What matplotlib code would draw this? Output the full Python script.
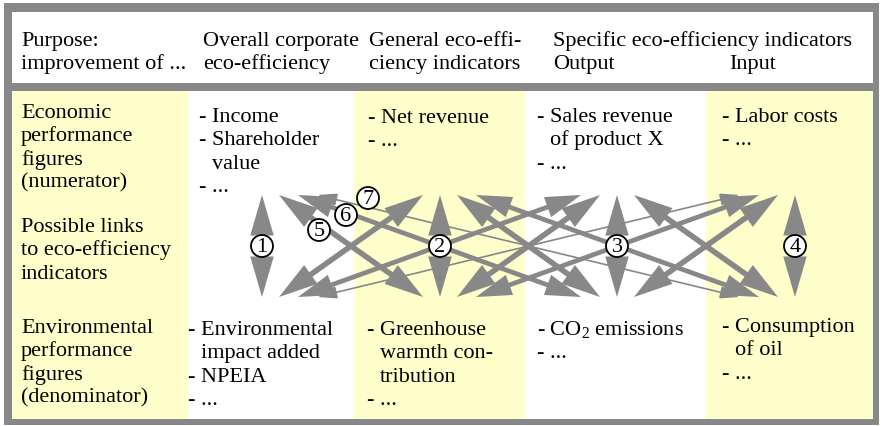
import matplotlib.pyplot as plt
from matplotlib.patches import Rectangle, Circle

plt.rcParams["font.family"] = ["Liberation Serif", "DejaVu Serif"]
plt.rcParams["mathtext.fontset"] = "custom"
plt.rcParams["mathtext.rm"] = "Liberation Serif"
plt.rcParams["mathtext.it"] = "Liberation Serif:italic"

# --- content -------------------------------------------------------------
header_purpose = ["Purpose:", "improvement of ..."]
header_overall = ["Overall corporate", "eco-efficiency"]
header_general = ["General eco-effi-", "ciency indicators"]
header_specific = ["Specific eco-efficiency indicators", "Output"]
header_input = ["", "Input"]

label_economic = ["Economic", "performance", "figures", "(numerator)"]
label_links = ["Possible links", "to eco-efficiency", "indicators"]
label_environmental = ["Environmental", "performance", "figures", "(denominator)"]

# lines starting with a space continue the item above
economic_items = [
    ["- Income", "- Shareholder", " value", "- ..."],
    ["- Net revenue", "- ..."],
    ["- Sales revenue", " of product X", "- ..."],
    ["- Labor costs", "- ..."],
]
environmental_items = [
    ["- Environmental", " impact added", "- NPEIA", "- ..."],
    ["- Greenhouse", " warmth con-", " tribution", "- ..."],
    [r"- CO$_2$ emissions", "- ..."],
    ["- Consumption", " of oil", "- ..."],
]

# links: (column at the top, column at the bottom, label)
links = [
    (0, 0, "1"), (1, 1, "2"), (2, 2, "3"), (3, 3, "4"),
    (0, 1, "5"), (0, 2, "6"), (0, 3, "7"),
    (1, 0, ""), (2, 0, ""), (3, 0, ""),
    (1, 2, ""), (1, 3, ""), (2, 1, ""), (3, 1, ""),
    (2, 3, ""), (3, 2, ""),
]

# --- layout --------------------------------------------------------------
W, H = 885, 427
GRAY = "#888888"
YELLOW = "#FFFFCC"
FS = 16
LINE = 23.3
INDENT = 13

col_edges = [12, 188, 354, 525, 706, 873]
col_fill = [YELLOW, "white", YELLOW, "white", YELLOW]
top_x = [199, 368, 537, 722]
bot_x = [188, 367, 537, 722]
top_y = [122, 123, 122, 122]
bot_y = [335, 335, 335, 332]

cx = [262, 440, 617, 795]
ARROW_TOP, ARROW_BOT = 196, 298
offsets = {1: 17, 2: 36, 3: 55}
widths = {0: 4.0, 1: 4.0, 2: 3.4, 3: 1.2}
heads = {0: (20, 5.8), 1: (19, 5.6), 2: (18, 5.4), 3: (12, 3.8)}
extra_label_pos = {"5": (319, 231), "6": (346, 216), "7": (368, 199)}

fig = plt.figure(figsize=(W / 100, H / 100), dpi=100)
ax = fig.add_axes([0, 0, 1, 1])
ax.set_xlim(0, W)
ax.set_ylim(H, 0)
ax.axis("off")

# frame and column bands
ax.add_patch(Rectangle((4, 4), 875, 422, fc=GRAY, ec="none"))
ax.add_patch(Rectangle((12, 13), 861, 71, fc="white", ec="none"))
for k in range(5):
    ax.add_patch(Rectangle((col_edges[k], 92), col_edges[k + 1] - col_edges[k], 328,
                           fc=col_fill[k], ec="none"))


def draw_lines(x, y0, lines, step=LINE):
    for n, line in enumerate(lines):
        dx = INDENT if line.startswith(" ") else 0
        ax.text(x + dx, y0 + n * step, line.strip(), fontsize=FS,
                ha="left", va="baseline", color="black", zorder=3)


for x, lines in zip([21, 203, 369, 553, 729],
                    [header_purpose, header_overall, header_general,
                     header_specific, header_input]):
    draw_lines(x, 46, lines, step=22.5)

draw_lines(21, 118, label_economic)
draw_lines(21, 232, label_links)
draw_lines(21, 333, label_environmental)

for k in range(4):
    draw_lines(top_x[k], top_y[k], economic_items[k])
    draw_lines(bot_x[k], bot_y[k], environmental_items[k])

# arrows
for i, j, lab in links:
    d = abs(j - i)
    if d == 0:
        p_top, p_bot = (cx[i], ARROW_TOP), (cx[j], ARROW_BOT)
    else:
        s = 1 if j > i else -1
        p_top = (cx[i] + s * offsets[d], ARROW_TOP)
        p_bot = (cx[j] - s * offsets[d], ARROW_BOT)
    hl, hw = heads[d]
    ax.annotate("", xy=p_bot, xytext=p_top,
                arrowprops=dict(arrowstyle=f"<|-|>,head_length={hl},head_width={hw}",
                                lw=widths[d], color=GRAY, shrinkA=0, shrinkB=0,
                                mutation_scale=1, joinstyle="miter", capstyle="butt"),
                zorder=2)
    if lab:
        pos = (cx[i], 247) if d == 0 else extra_label_pos[lab]
        ax.add_patch(Circle(pos, 11, fc="white", ec="black", lw=1.3, zorder=4))
        ax.text(pos[0], pos[1] + 0.5, lab, fontsize=16, ha="center", va="center", zorder=5)

fig.savefig("out.png", dpi=100)
